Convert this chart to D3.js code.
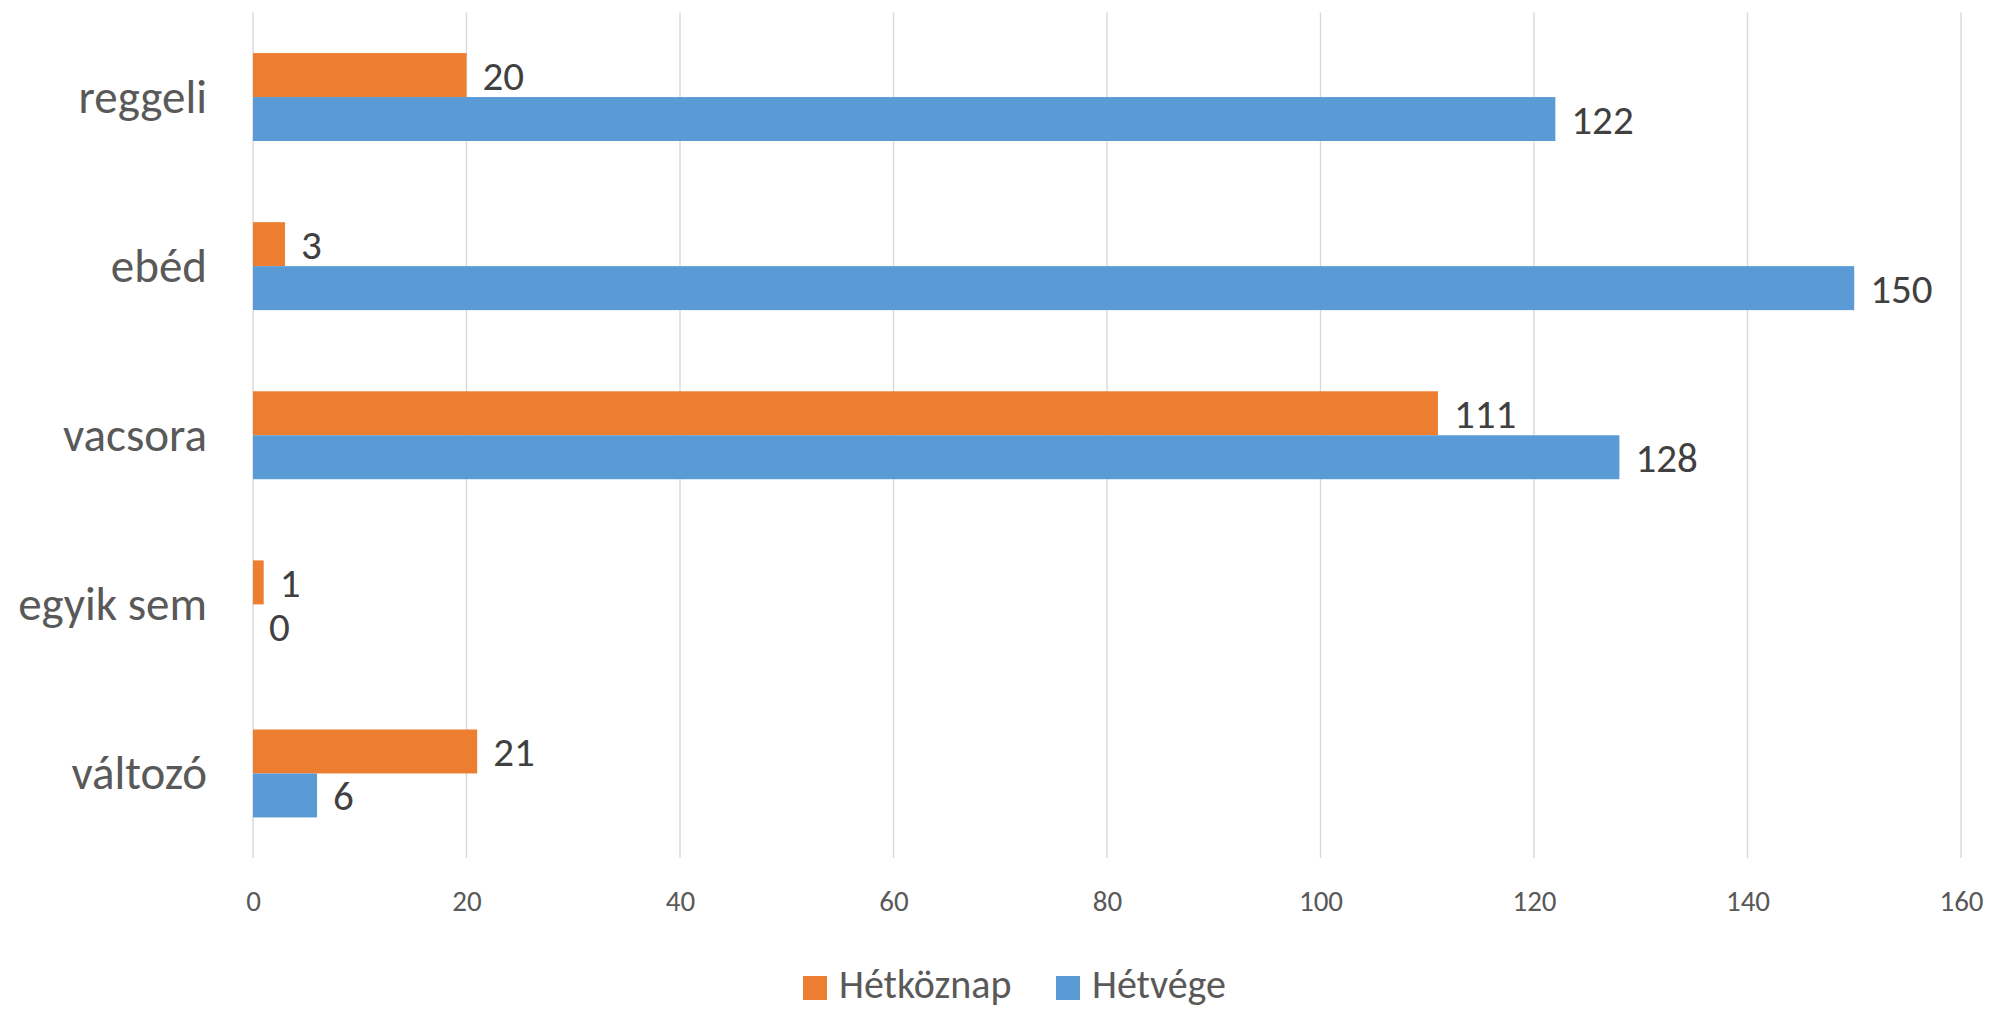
<!DOCTYPE html>
<html><head><meta charset="utf-8">
<script src="https://cdn.jsdelivr.net/npm/d3@7"></script>
<style>body{margin:0;background:#fff}svg{display:block}text{font-family:Carlito,Calibri,Lato,sans-serif}</style>
</head><body>
<script>
const categories = ["reggeli","ebéd","vacsora","egyik sem","változó"];
const seriesNames = ["Hétköznap","Hétvége"];
const weekday = [20,3,111,1,21];
const weekend = [122,150,128,0,6];
const colors = ["#ED7D31","#5B9BD5"];
const xTicks = [0,20,40,60,80,100,120,140,160];

const W=1992,H=1009;
const svg=d3.select("body").append("svg").attr("width",W).attr("height",H);
const x=d3.scaleLinear().domain([0,160]).range([253,1961]);
const y=d3.scaleBand().domain(categories).range([12.5,858]).paddingInner(0.48).paddingOuter(0.24);
const ys=d3.scaleBand().domain(seriesNames).range([0,y.bandwidth()]);

// gridlines
svg.append("g").selectAll("line").data(xTicks).join("line")
  .attr("x1",d=>x(d)).attr("x2",d=>x(d)).attr("y1",12.5).attr("y2",858)
  .attr("stroke","#d9d9d9").attr("stroke-width",1.4);

// x axis labels
const xa=svg.append("g").attr("transform","translate(0,858)")
  .call(d3.axisBottom(x).tickValues(xTicks).tickSize(0).tickPadding(0));
xa.select(".domain").remove();
xa.selectAll("text").attr("y",53).attr("dy",null).attr("font-size",29).attr("fill","#595959")
  .style("font-family","Carlito,Calibri,Lato,sans-serif");

// y axis labels
const ya=svg.append("g").attr("transform","translate(207,0)")
  .call(d3.axisLeft(y).tickSize(0).tickPadding(0));
ya.select(".domain").remove();
ya.selectAll("text").attr("font-size",47).attr("fill","#595959").attr("dy","0.34em")
  .style("font-family","Carlito,Calibri,Lato,sans-serif");

const data=[];
categories.forEach((c,i)=>{
  data.push({c,s:seriesNames[0],v:weekday[i],col:colors[0]});
  data.push({c,s:seriesNames[1],v:weekend[i],col:colors[1]});
});

svg.append("g").selectAll("rect").data(data).join("rect")
  .attr("x",x(0)).attr("y",d=>y(d.c)+ys(d.s))
  .attr("width",d=>x(d.v)-x(0)).attr("height",ys.bandwidth())
  .attr("fill",d=>d.col);

svg.append("g").selectAll("text").data(data).join("text")
  .attr("x",d=>x(d.v)+16).attr("y",d=>y(d.c)+ys(d.s)+ys.bandwidth()/2)
  .attr("dy","0.36em").attr("font-size",41).attr("fill","#404040")
  .text(d=>d.v);

// legend
const lg=svg.append("g");
const legX=[803,1056];
seriesNames.forEach((s,i)=>{
  lg.append("rect").attr("x",legX[i]).attr("y",976).attr("width",24).attr("height",24).attr("fill",colors[i]);
  lg.append("text").attr("x",legX[i]+36).attr("y",998).attr("font-size",40).attr("fill","#595959").text(s);
});
</script>
</body></html>
